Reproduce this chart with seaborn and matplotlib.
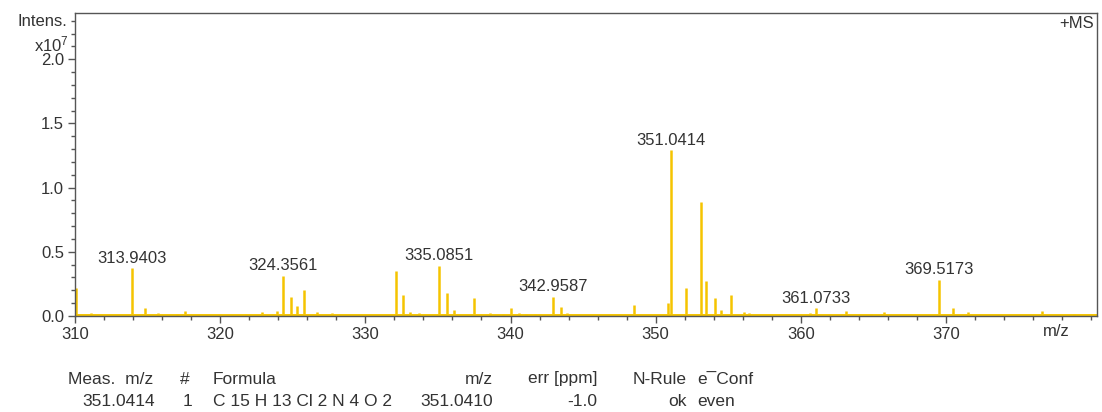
import numpy as np
import pandas as pd
import matplotlib
matplotlib.use("Agg")
import matplotlib.pyplot as plt
from matplotlib.ticker import MultipleLocator, FixedLocator
import seaborn as sns

# %% data (m/z, intensity in 1e7)
peak_mz = [310.05, 311.1, 313.94, 314.8, 315.7, 317.0, 317.6, 319.0, 320.8, 321.8,
           322.9, 323.9, 324.36, 324.85, 325.3, 325.75, 326.7, 327.7,
           332.1, 332.6, 333.1, 333.7, 335.09, 335.6, 336.1, 337.5, 338.6, 339.5,
           340.05, 340.6, 341.1, 341.7, 342.3, 342.96, 343.5, 343.9, 348.5,
           350.85, 351.04, 352.1, 353.1, 353.45, 354.1, 354.5, 355.2, 356.1, 356.4,
           360.6, 361.07, 363.1, 364.8, 365.7, 369.52, 370.5, 371.5, 373.6, 376.6, 378.8]
peak_int = [0.22, 0.02, 0.37, 0.06, 0.02, 0.015, 0.04, 0.01, 0.01, 0.015,
            0.03, 0.04, 0.31, 0.15, 0.08, 0.20, 0.03, 0.02,
            0.35, 0.16, 0.03, 0.02, 0.39, 0.18, 0.05, 0.14, 0.02, 0.015,
            0.06, 0.02, 0.015, 0.015, 0.01, 0.15, 0.07, 0.02, 0.085,
            0.10, 1.29, 0.22, 0.89, 0.27, 0.14, 0.05, 0.16, 0.03, 0.02,
            0.02, 0.06, 0.04, 0.015, 0.03, 0.28, 0.06, 0.03, 0.01, 0.04, 0.015]

label_mz = [313.9403, 324.3561, 335.0851, 342.9587, 351.0414, 361.0733, 369.5173]
label_int = [0.37, 0.31, 0.39, 0.15, 1.29, 0.06, 0.28]

x_ticks = [310, 320, 330, 340, 350, 360, 370]

table_header = ["Meas.  m/z", "#", "Formula", "m/z", "err [ppm]", "N-Rule", "e\u00afConf"]
table_row = ["351.0414", "1", "C 15 H 13 Cl 2 N 4 O 2", "351.0410", "-1.0", "ok", "even"]

df = pd.DataFrame({"mz": peak_mz, "intensity": peak_int})

# %% plot
sns.set_theme(style="ticks")
plt.rcParams["font.family"] = ["Liberation Sans", "DejaVu Sans"]
plt.rcParams["mathtext.default"] = "regular"

spec = "#F5C400"
txt = "#333333"

fig = plt.figure(figsize=(11.02, 4.12), dpi=100)
ax = fig.add_axes([75 / 1102, 1 - 316 / 412, (1097 - 75) / 1102, (316 - 13) / 412])

ax.axhline(0.004, color=spec, lw=1.4, zorder=1)
ax.vlines(df["mz"], 0, df["intensity"], color=spec, lw=1.8, zorder=2)

for mz, h in zip(label_mz, label_int):
    ax.annotate(f"{mz:.4f}", xy=(mz, h), xytext=(0, 2), textcoords="offset points",
                ha="center", va="bottom", fontsize=12, color=txt)

ax.set_xlim(310, 380.4)
ax.set_ylim(0, 2.36)
ax.xaxis.set_major_locator(FixedLocator(x_ticks))
ax.xaxis.set_minor_locator(MultipleLocator(2))
ax.yaxis.set_major_locator(MultipleLocator(0.5))
ax.yaxis.set_minor_locator(MultipleLocator(0.1))
ax.yaxis.set_major_formatter(matplotlib.ticker.FormatStrFormatter("%.1f"))
ax.tick_params(which="major", length=5, width=1, color="#555555", labelsize=12, labelcolor=txt, pad=3)
ax.tick_params(which="minor", length=3, width=1, color="#555555")
for s in ax.spines.values():
    s.set_color("#555555")
    s.set_linewidth(1)
ax.grid(False)

fig.text(67 / 1102, 1 - 22 / 412, "Intens.", ha="right", va="center", fontsize=12, color=txt)
fig.text(69 / 1102, 1 - 44 / 412, "x10$^7$", ha="right", va="center", fontsize=12, color=txt)
fig.text(1094 / 1102, 1 - 23 / 412, "+MS", ha="right", va="center", fontsize=12, color=txt)
fig.text(1070 / 1102, 1 - 331 / 412, "m/z", ha="right", va="center", fontsize=12, color=txt)

# table under the chart
col_x = [68, 180, 213, 493, 597, 687, 697]
col_ha = ["left", "left", "left", "right", "right", "right", "left"]
row_x = [155, 183, 213, 493, 597, 687, 697]
row_ha = ["right", "left", "left", "right", "right", "right", "left"]
for t, x, ha in zip(table_header, col_x, col_ha):
    fig.text(x / 1102, 1 - 379 / 412, t, ha=ha, va="center", fontsize=12.5, color=txt)
for t, x, ha in zip(table_row, row_x, row_ha):
    fig.text(x / 1102, 1 - 401 / 412, t, ha=ha, va="center", fontsize=12.5, color=txt)

fig.savefig("out.png", dpi=100)
